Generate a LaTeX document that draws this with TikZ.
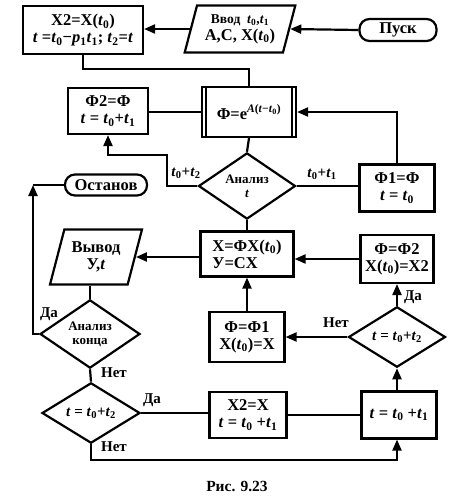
\documentclass[tikz,border=0pt]{standalone}
\usepackage{fontspec}
\setmainfont{Liberation Serif}
\usetikzlibrary{shapes.geometric,arrows.meta}
\newcommand{\tv}[1]{\textit{t}\textsubscript{#1}}
\newcommand{\ti}{\textit{t}}
\begin{document}
\begin{tikzpicture}[x=1pt,y=-1pt,
  every node/.style={font=\fontsize{16.5}{17}\selectfont\bfseries, align=center, inner sep=0pt},
  blk/.style={draw, line width=2.2pt, rectangle},
  term/.style={draw, line width=2.2pt, rectangle, rounded corners=10pt},
  dia/.style={draw, line width=2.2pt, diamond, font=\fontsize{13}{14}\selectfont\bfseries},
  io/.style={draw, line width=2.2pt, trapezium, trapezium left angle=71, trapezium right angle=109, trapezium stretches=true},
  ln/.style={line width=2.2pt},
  arr/.style={line width=2.2pt, -{Triangle[length=11pt,width=9pt]}},
  lbl/.style={font=\fontsize{15}{16}\selectfont\bfseries}]
\useasboundingbox (0,0) rectangle (461,499);

% top row
\node[blk, minimum width=120, minimum height=48] (x2) at (83,30) {X2=X(\tv{0})\\ \ti{} =\tv{0}−\textit{p}\textsubscript{1}\tv{1}; \tv{2}=\ti};
\node[io, minimum width=111, minimum height=47] (inp) at (240,29) {{\fontsize{13.5}{14}\selectfont Ввод \ \tv{0},\tv{1}}\\A,C, X(\tv{0})};
\node[term, minimum width=77, minimum height=22] (pusk) at (398,30) {Пуск};

% second row
\node[blk, minimum width=80, minimum height=46] (f2) at (108,111) {Φ2=Φ\\ \ti{} = \tv{0}+\tv{1}};
\node[blk, minimum width=94, minimum height=50] (phi) at (249,112) {Φ=e\textsuperscript{\textit{A}(\textit{t}−\textit{t}\textsubscript{0})}};
\draw[line width=1.5pt] ([xshift=5pt]phi.north west) -- ([xshift=5pt]phi.south west);
\draw[line width=1.5pt] ([xshift=-5pt]phi.north east) -- ([xshift=-5pt]phi.south east);

% analysis row
\node[dia, minimum width=97, minimum height=52] (an) at (247,186) {Анализ\\ \ti};
\node[blk, minimum width=75, minimum height=47] (f1) at (397,188) {Φ1=Φ\\ \ti{} = \tv{0}};
\node[term, minimum width=82, minimum height=21] (ost) at (106,185) {Останов};

% third row
\node[io, minimum width=92, minimum height=55, trapezium left angle=70, trapezium right angle=110] (out) at (96,257) {Вывод\\У,\ti};
\node[blk, minimum width=93, minimum height=45, align=left] (xb) at (247,254) {X=ΦX(\tv{0})\\У=CX};
\node[blk, minimum width=73, minimum height=48] (f3) at (397,259) {Φ=Φ2\\X(\tv{0})=X2};

% fourth row
\node[dia, minimum width=100, minimum height=48] (ak) at (90,334) {Анализ\\конца};
\node[blk, minimum width=75, minimum height=50] (f4) at (247,337) {Φ=Φ1\\X(\tv{0})=X};
\node[dia, minimum width=97, minimum height=49, font=\fontsize{15}{16}\selectfont\bfseries] (d2) at (397,337) {\ti{} = \tv{0}+\tv{2}};

% fifth row
\node[dia, minimum width=98, minimum height=48, font=\fontsize{15}{16}\selectfont\bfseries] (d1) at (91,413) {\ti{} = \tv{0}+\tv{2}};
\node[blk, minimum width=77, minimum height=46] (x2b) at (248,415) {X2=X\\ \ti{} = \tv{0} +\tv{1}};
\node[blk, minimum width=75, minimum height=47] (tb) at (399,415) {\ti{} = \tv{0} +\tv{1}};

% caption
\node[font=\fontsize{15.5}{16}\selectfont\bfseries] (cap) at (237,486) {Рис. 9.23};

% labels
\node[lbl] (l1) at (186,173) {\tv{0}+\tv{2}};
\node[lbl] (l2) at (322,174) {\tv{0}+\tv{1}};
\node[lbl] (l3) at (413,297) {Да};
\node[lbl] (l4) at (336,323) {Нет};
\node[lbl] (l5) at (49,314) {Да};
\node[lbl] (l6) at (114,373) {Нет};
\node[lbl] (l7) at (152,400) {Да};
\node[lbl] (l8) at (114,447) {Нет};

% coordinates
\coordinate (c1) at (167,155);
\coordinate (c2) at (33,185);
\coordinate (c3) at (397,460);

% connectors
\draw[arr] (pusk.west) -- (inp.east);
\draw[arr] (inp.west) -- (inp.west -| x2.east);
\draw[ln] (x2.south) -- ++(0,14) -| (phi.north);
\draw[ln] (phi.west) -- (phi.west -| f2.east);
\draw[arr] (f1.north) |- (phi.east);
\draw[ln] (phi.south) -- (an.north);
\draw[arr] (an.west) -| (c1) -| (f2.south);
\draw[ln] (an.east) -- (an.east -| f1.west);
\draw[ln] (an.south) -- (xb.north);
\draw[arr] (f3.west) -- (f3.west -| xb.east);
\draw[arr] (xb.west |- out.east) -- (out.east);
\draw[arr] (f4.north) -- (xb.south);
\draw[arr] (d2.north) -- (f3.south);
\draw[arr] (d2.west) -- (d2.west -| f4.east);
\draw[ln] (ak.north) -- (ak.north |- out.south);
\draw[arr] (ak.west) -| (c2);
\draw[ln] (c2) -- (ost.west);
\draw[ln] (ak.south) -- (d1.north);
\draw[ln] (d1.east) -- (d1.east -| x2b.west);
\draw[ln] (x2b.east) -- (x2b.east -| tb.west);
\draw[arr] (tb.north -| d2.south) -- (d2.south);
\draw[arr] (d1.south) |- (c3) -- (c3 |- tb.south);
\end{tikzpicture}
\end{document}
